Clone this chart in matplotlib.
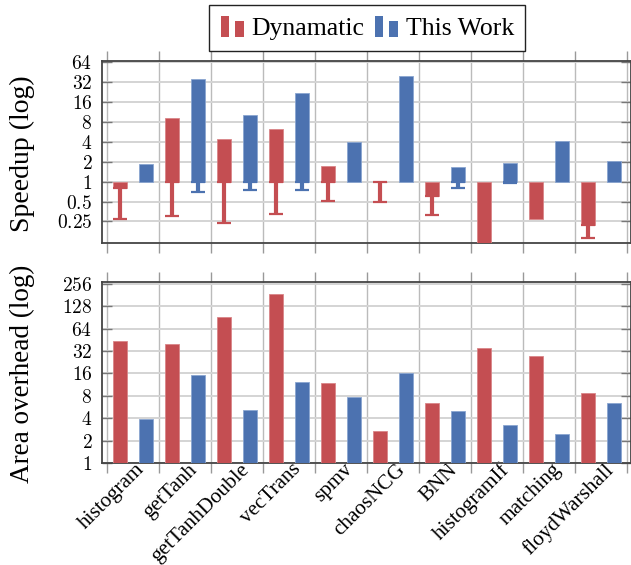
import numpy as np
import matplotlib as mpl
import matplotlib.pyplot as plt
import matplotlib.patches as patches
from matplotlib.legend_handler import HandlerBase
from matplotlib import ticker

plt.rcParams["font.family"] = "Liberation Serif"
plt.rcParams["mathtext.fontset"] = "cm"

benchmarks = ['histogram', 'getTanh', 'getTanhDouble', 'vecTrans', 'spmv',
              'chaosNCG', 'BNN', 'histogramIf', 'matching', 'floydWarshall']

# speedup (log), bars start at 1; *_min = lower whisker (nan = none)
dyn_speedup = [0.81, 9.2, 4.4, 6.3, 1.71, 1.0, 0.61, 0.115, 0.27, 0.22]
dyn_min = [0.27, 0.30, 0.24, 0.32, 0.51, 0.50, 0.31, np.nan, np.nan, 0.14]
ours_speedup = [1.85, 35.3, 10.3, 21.7, 4.0, 39.7, 1.65, 1.90, 4.08, 2.04]
ours_min = [np.nan, 0.69, 0.76, 0.76, np.nan, np.nan, 0.80, 0.95, np.nan, np.nan]

# area overhead (log)
dyn_area = [44, 40, 91.6, 189, 11.7, 2.67, 6.35, 35.5, 27.4, 8.8]
ours_area = [3.87, 15.4, 5.2, 12.3, 7.7, 16.2, 5.0, 3.28, 2.45, 6.35]

speed_ticks = [0.25, 0.5, 1, 2, 4, 8, 16, 32, 64]
speed_ticklabels = ['0.25', '0.5', '1', '2', '4', '8', '16', '32', '64']
area_ticks = [1, 2, 4, 8, 16, 32, 64, 128, 256]
area_ticklabels = ['1', '2', '4', '8', '16', '32', '64', '128', '256']

red = '#C44E52'
blue = '#4C72B0'
red_edge = '#D98588'
blue_edge = '#8AA5D0'

x = np.arange(len(benchmarks))
off = 0.25
bw = 0.277

fig = plt.figure(figsize=(6.31, 5.65), dpi=100)
ax1 = fig.add_axes([102/631, 1-243/565, (630.5-102)/631, 182/565])
ax2 = fig.add_axes([102/631, 1-463/565, (630.5-102)/631, 181/565])


def style_axis(ax, ticks, ticklabels):
    ax.set_yscale('log')
    ax.set_xlim(-0.596, 9.567)
    ax.yaxis.set_major_locator(ticker.FixedLocator(ticks))
    ax.yaxis.set_major_formatter(ticker.FixedFormatter(['$%s$' % t for t in ticklabels]))
    ax.yaxis.set_minor_locator(ticker.NullLocator())
    ax.xaxis.set_minor_locator(ticker.FixedLocator(np.arange(-0.5, 10, 1.0)))
    ax.tick_params(axis='y', which='major', direction='in', left=True, right=True,
                   length=7, width=1, color='#777777', labelsize=14, pad=7)
    ax.tick_params(axis='x', which='minor', direction='out', top=True, bottom=True,
                   length=7.5, width=1, color='#999999')
    ax.tick_params(axis='x', which='major', length=0)
    ax.grid(True, axis='y', which='major', color='#d4d4d4', linewidth=1.4, zorder=0)
    ax.grid(True, axis='x', which='minor', color='#bbbbbb', linewidth=1.0, zorder=0)
    ax.set_axisbelow(True)
    for s in ['top', 'bottom', 'left', 'right']:
        ax.spines[s].set_color('#444444')
        ax.spines[s].set_linewidth(1.3)


# top: speedup
style_axis(ax1, speed_ticks, speed_ticklabels)
ax1.set_ylim(0.118, 67)
ax1.bar(x - off, np.array(dyn_speedup) - 1, bottom=1, width=bw, color=red,
        edgecolor=red_edge, linewidth=0.6, zorder=3)
ax1.bar(x + off, np.array(ours_speedup) - 1, bottom=1, width=bw, color=blue,
        edgecolor=blue_edge, linewidth=0.6, zorder=3)
for xs, vals, mins, c in [(x - off, dyn_speedup, dyn_min, red),
                          (x + off, ours_speedup, ours_min, blue)]:
    for xi, v, m in zip(xs, vals, mins):
        if np.isnan(m):
            continue
        top = min(v, 1.0)
        ax1.errorbar([xi], [top], yerr=[[top - m], [0]], fmt='none', ecolor=c,
                     elinewidth=3, capsize=5, capthick=1.6, zorder=4)
ax1.set_xticks(x)
ax1.set_xticklabels([])
ax1.set_ylabel('Speedup (log)', fontsize=20)
ax1.yaxis.set_label_coords(-0.151, 0.49)
ax1.yaxis.label.set_va('center')

# bottom: area overhead
style_axis(ax2, area_ticks, area_ticklabels)
ax2.set_ylim(1, 270)
ax2.bar(x - off, np.array(dyn_area) - 1, bottom=1, width=bw, color=red,
        edgecolor=red_edge, linewidth=0.6, zorder=3)
ax2.bar(x + off, np.array(ours_area) - 1, bottom=1, width=bw, color=blue,
        edgecolor=blue_edge, linewidth=0.6, zorder=3)
ax2.set_xticks(x + 0.05)
ax2.set_xticklabels(benchmarks, rotation=45, ha='right', va='top',
                    rotation_mode='anchor', fontsize=15.2)
ax2.tick_params(axis='x', which='major', pad=-2)
ax2.set_ylabel('Area overhead (log)', fontsize=19.5)
ax2.yaxis.set_label_coords(-0.151, 0.49)
ax2.yaxis.label.set_va('center')


class TwoBarHandler(HandlerBase):
    def create_artists(self, legend, orig_handle, xdescent, ydescent,
                       width, height, fontsize, trans):
        c = orig_handle.get_facecolor()
        r1 = patches.Rectangle((-xdescent, -ydescent - 0.15 * height), 0.36 * width,
                               1.2 * height, facecolor=c, edgecolor='none', transform=trans)
        r2 = patches.Rectangle((-xdescent + 0.6 * width, -ydescent - 0.15 * height),
                               0.4 * width, 0.92 * height, facecolor=c, edgecolor='none',
                               transform=trans)
        return [r1, r2]


h_dyn = patches.Patch(facecolor=red, label='Dynamatic')
h_ours = patches.Patch(facecolor=blue, label='This Work')
leg = fig.legend(handles=[h_dyn, h_ours], labels=['Dynamatic', 'This Work'],
                 handler_map={patches.Patch: TwoBarHandler()},
                 loc='upper center', bbox_to_anchor=(0.582, 0.991), ncol=2,
                 fontsize=18.5, frameon=True, fancybox=False, edgecolor='#222222',
                 framealpha=1, handlelength=0.9, handletextpad=0.3,
                 columnspacing=0.4, borderpad=0.45, borderaxespad=0)
leg.get_frame().set_linewidth(1.0)

fig.savefig('out.png', dpi=100)
